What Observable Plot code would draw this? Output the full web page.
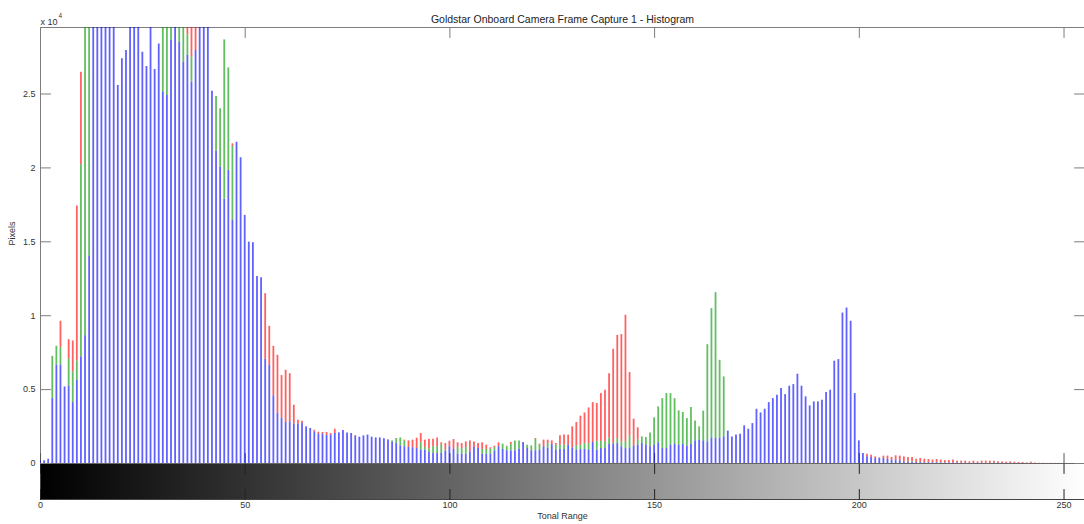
<!DOCTYPE html>
<html><head><meta charset="utf-8">
<script src="https://cdn.jsdelivr.net/npm/d3@7"></script>
<script src="https://cdn.jsdelivr.net/npm/@observablehq/plot@0.6"></script>
<style>
html,body{margin:0;padding:0;background:#fff;}
#chart{position:relative;width:1084px;height:524px;overflow:hidden;}
#chart svg{position:absolute;left:0;overflow:visible;}
</style></head><body><div id="chart"></div>
<script>
const title = "Goldstar Onboard Camera Frame Capture 1 - Histogram";
const xLabel = "Tonal Range";
const yLabel = "Pixels";
const yMultiplier = "x 10";
const yExponent = "4";
const binCount = 256;
const yMax = 29500;
const xTicks = [0, 50, 100, 150, 200, 250];
const xTickLabels = ["0", "50", "100", "150", "200", "250"];
const yTicks = [0, 5000, 10000, 15000, 20000, 25000];
const yTickLabels = ["0", "0.5", "1", "1.5", "2", "2.5"];

const red = [
  100, 150, 250, 4300, 6000, 9620, 4800, 8380, 8290, 17420,
  26470, 30000, 30500, 31000, 32000, 33000, 33000, 32000, 31000, 24000,
  26000, 27000, 29000, 29500, 29000, 27000, 26000, 29000, 26000, 27500,
  29000, 29000, 29500, 29000, 29000, 29000, 31000, 31000, 30500, 29500,
  29000, 28500, 24500, 20000, 19000, 17000, 19000, 21630, 20500, 19500,
  15500, 14000, 14000, 12000, 12000, 11490, 9280, 7930, 7320, 5950,
  6310, 6080, 3940, 2930, 2860, 2400, 2300, 2250, 2120, 2100,
  2100, 2030, 2320, 1950, 2100, 1950, 1950, 1890, 1700, 1800,
  1850, 1700, 1650, 1650, 1600, 1600, 1400, 1300, 1150, 1580,
  1530, 1580, 1710, 2030, 1580, 1640, 1640, 1730, 1400, 1350,
  1510, 1620, 1400, 1350, 1460, 1530, 1460, 1350, 1400, 1240,
  1060, 1170, 1400, 1200, 1170, 1420, 1300, 1400, 1300, 1150,
  1100, 1690, 1310, 1580, 1580, 1530, 1350, 1870, 1920, 1920,
  2480, 2770, 3200, 3420, 3760, 4120, 4060, 4730, 4960, 6080,
  7730, 8670, 8720, 10030, 6150, 3000, 2410, 1500, 1500, 1700,
  2000, 2200, 2300, 2400, 2300, 2100, 2000, 2000, 1900, 2000,
  1800, 1700, 1900, 2500, 2800, 2900, 2300, 2000, 1500, 1300,
  1300, 1300, 1500, 1500, 1600, 2000, 2000, 2100, 2300, 2400,
  2500, 2700, 2600, 2800, 2900, 3000, 2800, 2500, 2300, 2400,
  2400, 2500, 2700, 2800, 3500, 3600, 4800, 5000, 4500, 2500,
  1000, 600, 630, 560, 450, 380, 500, 500, 410, 520,
  500, 450, 410, 410, 290, 340, 290, 270, 230, 270,
  230, 200, 200, 230, 160, 160, 160, 110, 160, 110,
  160, 160, 160, 160, 110, 110, 90, 110, 90, 70,
  70, 40, 90, 30, 20, 20, 10, 10, 10, 10,
  10, 0, 0, 0, 0, 0
];
const green = [
  120, 160, 270, 7250, 7930, 7840, 5000, 7050, 6200, 6940,
  20210, 34000, 34000, 32000, 33000, 34000, 35000, 34000, 33000, 25000,
  27000, 27500, 30000, 30500, 30000, 27500, 26500, 29500, 26300, 28000,
  31000, 30500, 31000, 30000, 30500, 30000, 29000, 27500, 27000, 30000,
  29500, 29000, 24800, 24830, 24000, 28660, 26770, 21450, 21000, 20000,
  16000, 14500, 14500, 12300, 12200, 6800, 6400, 4400, 3200, 2900,
  2600, 2700, 2550, 2550, 2600, 2400, 2300, 2080, 1930, 1930,
  1850, 1880, 1980, 2020, 2150, 2020, 1980, 1800, 1740, 1820,
  1870, 1740, 1700, 1700, 1640, 1550, 1530, 1690, 1730, 1510,
  1000, 1000, 980, 1400, 1080, 970, 1130, 1130, 1240, 900,
  1050, 900, 1080, 1010, 1080, 760, 1000, 950, 950, 950,
  970, 1080, 1050, 1310, 1130, 1280, 1530, 1530, 1380, 1240,
  1190, 1620, 1240, 1080, 1350, 1200, 1240, 1240, 1240, 1200,
  1000, 1170, 1240, 1350, 1350, 1400, 1500, 1500, 1460, 1730,
  1350, 1690, 1460, 1460, 1870, 1150, 1580, 1800, 1760, 2070,
  3090, 3830, 4390, 4730, 4730, 4390, 3560, 3450, 3040, 3790,
  2880, 2480, 3540, 8040, 10480, 11560, 6980, 5860, 2000, 1700,
  1800, 1850, 2300, 2100, 2500, 3300, 3100, 3300, 3700, 3900,
  4100, 4500, 4200, 4700, 4800, 5400, 4700, 4100, 3500, 3800,
  3800, 3900, 4300, 4500, 6200, 6300, 9200, 9500, 8700, 4300,
  1400, 620, 410, 360, 300, 300, 300, 250, 200, 200,
  160, 110, 110, 110, 80, 70, 60, 60, 50, 50,
  40, 40, 40, 30, 30, 30, 20, 20, 20, 20,
  20, 20, 10, 10, 10, 10, 10, 10, 10, 10,
  10, 10, 10, 10, 0, 0, 0, 0, 0, 0,
  0, 0, 0, 0, 0, 0
];
const blue = [
  150, 180, 290, 4400, 6650, 6650, 5180, 5230, 4120, 5630,
  7210, 8650, 14010, 36000, 38000, 39000, 40000, 39000, 37000, 25570,
  27380, 27940, 31000, 31500, 30500, 27820, 26860, 30000, 26650, 28390,
  25130, 24900, 28660, 30500, 28500, 27150, 27600, 25800, 27940, 31000,
  30500, 30000, 25190, 21130, 20050, 17870, 19830, 16450, 21740, 20690,
  16790, 14980, 14940, 12660, 12570, 7050, 6650, 4570, 3380, 3040,
  2770, 2820, 2660, 2660, 2700, 2480, 2370, 2140, 1980, 1980,
  1890, 1920, 2030, 2070, 2230, 2070, 2030, 1850, 1780, 1870,
  1920, 1780, 1730, 1730, 1670, 1580, 1460, 1350, 1190, 1130,
  1080, 1060, 1010, 900, 900, 740, 680, 680, 680, 840,
  1130, 950, 630, 630, 630, 790, 1080, 1010, 630, 630,
  630, 840, 1130, 950, 860, 840, 840, 970, 1420, 1010,
  860, 860, 900, 1130, 1010, 1280, 900, 950, 950, 1240,
  1060, 900, 950, 950, 900, 1420, 900, 1010, 1010, 1280,
  1300, 1350, 1130, 1010, 1010, 1190, 1240, 1350, 1240, 1130,
  1240, 1400, 1010, 1010, 1240, 1300, 1240, 1280, 1170, 1300,
  1530, 1580, 1530, 1460, 1730, 1690, 1690, 1800, 2190, 1800,
  1920, 1980, 2550, 2320, 2700, 3670, 3420, 3670, 4120, 4390,
  4620, 5070, 4660, 5230, 5340, 6040, 5230, 4510, 3900, 4170,
  4170, 4280, 4800, 4960, 6920, 7030, 10180, 10520, 9620, 4730,
  1530, 680, 450, 400, 340, 340, 340, 270, 230, 230,
  180, 110, 80, 80, 60, 60, 50, 50, 40, 40,
  40, 30, 30, 30, 30, 20, 20, 20, 20, 20,
  20, 10, 10, 10, 10, 10, 10, 10, 10, 10,
  10, 10, 10, 0, 0, 0, 0, 0, 0, 0,
  0, 0, 0, 0, 0, 0
];

const bins = d3.range(binCount);
const rows = bins.map(i => ({bin: i, r: red[i], g: green[i], b: blue[i]}));
// Stems are drawn red, then green, then blue on top: only the part of each
// stem that is not covered by a later one is visible.
const redVisible = rows.filter(d => d.r > Math.max(d.g, d.b));
const greenVisible = rows.filter(d => d.g > d.b);

const font = "'Liberation Sans', Arial, Helvetica, sans-serif";
const axisColor = "#7d7d7d";
const textColor = "#333333";
const tickShape = {draw(context, l) { context.moveTo(0, 0); context.lineTo(0, -l); }};
const tick = (data, opts) => Plot.vector(data, {length: 10, anchor: "start", shape: tickShape, strokeWidth: 1, ...opts});
const stem = {clip: true, dx: -0.5, strokeWidth: 1.8, strokeOpacity: 0.62};

const hist = Plot.plot({
  width: 1084, height: 464,
  marginLeft: 40, marginRight: 0, marginTop: 27, marginBottom: 1,
  x: {domain: [0, 255], axis: null},
  y: {domain: [0, yMax], axis: null},
  style: {fontFamily: font, fontSize: "9px", color: textColor, background: "transparent", overflow: "visible"},
  marks: [
    Plot.ruleY([yMax], {stroke: axisColor}),
    Plot.ruleX([0], {stroke: axisColor}),
    Plot.ruleY([0], {stroke: "#666"}),
    tick(xTicks, {x: d => d, frameAnchor: "top", rotate: 180, stroke: axisColor}),
    tick(xTicks, {x: d => d, frameAnchor: "bottom", rotate: 0, stroke: "#555"}),
    tick(yTicks, {y: d => d, frameAnchor: "left", rotate: 90, stroke: axisColor}),
    tick(yTicks, {y: d => d, frameAnchor: "right", rotate: -90, stroke: axisColor}),
    Plot.ruleX(redVisible, {x: "bin", y1: d => Math.max(d.g, d.b), y2: "r", stroke: "#ff0000", ...stem}),
    Plot.ruleX(greenVisible, {x: "bin", y1: "b", y2: "g", stroke: "#009600", ...stem}),
    Plot.ruleX(rows, {x: "bin", y1: 0, y2: "b", stroke: "#0000ff", ...stem}),
    Plot.text(yTicks, {y: d => d, frameAnchor: "left", dx: -5, textAnchor: "end", text: (d, i) => yTickLabels[i], fill: textColor}),
    Plot.text([title], {frameAnchor: "top", dy: -12, fontSize: 10.5, fill: "#222"}),
    Plot.text([yMultiplier], {frameAnchor: "top-left", dy: -9, textAnchor: "start", fill: textColor}),
    Plot.text([yExponent], {frameAnchor: "top-left", dx: 18, dy: -14, textAnchor: "start", fontSize: 6.5, fill: textColor}),
    Plot.text([yLabel], {frameAnchor: "left", dx: -28, rotate: -90, fill: textColor})
  ]
});
hist.style.top = "0px";

const bar = Plot.plot({
  width: 1084, height: 61,
  marginLeft: 40, marginRight: 0, marginTop: 0, marginBottom: 25,
  x: {domain: [0, 255], axis: null},
  y: {domain: [0, 1], axis: null},
  style: {fontFamily: font, fontSize: "9px", color: textColor, background: "transparent", overflow: "visible"},
  marks: [
    Plot.rect(bins, {x1: d => d, x2: d => d + 1, y1: 0, y2: 1, fill: d => `rgb(${d},${d},${d})`, shapeRendering: "crispEdges", clip: true}),
    Plot.frame({stroke: "#444"}),
    tick(xTicks, {x: d => d, frameAnchor: "top", rotate: 180, stroke: "#222"}),
    tick(xTicks, {x: d => d, frameAnchor: "bottom", rotate: 0, stroke: "#222"}),
    Plot.text(xTicks, {x: d => d, frameAnchor: "bottom", dy: 8, text: (d, i) => xTickLabels[i], fill: textColor}),
    Plot.text([xLabel], {frameAnchor: "bottom", dy: 19, fill: textColor})
  ]
});
bar.style.top = "463px";

const chart = document.getElementById("chart");
chart.appendChild(bar);
chart.appendChild(hist);
</script>
</body></html>
